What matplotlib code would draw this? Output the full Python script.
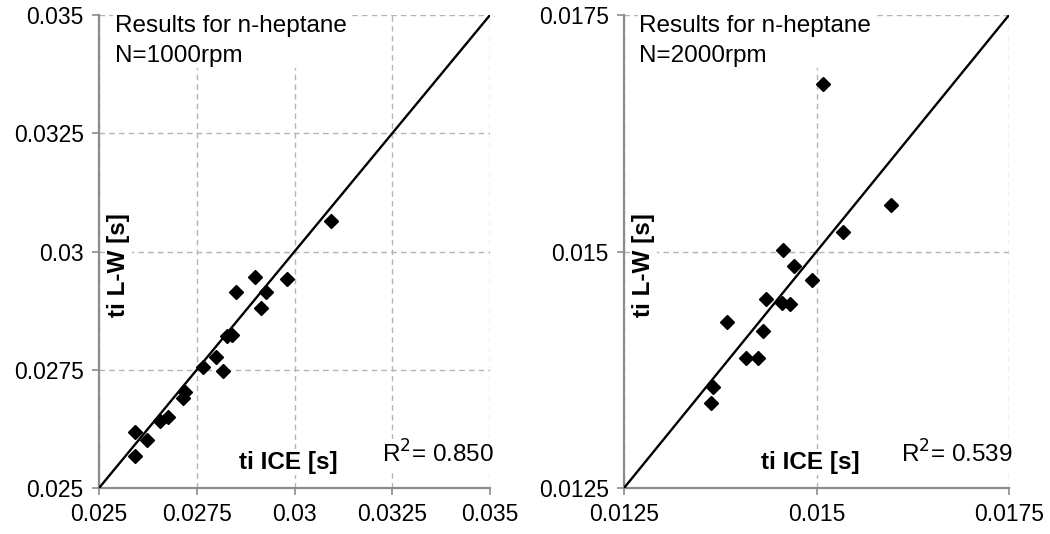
import matplotlib
matplotlib.use("Agg")
from matplotlib import pyplot as plt

plt.rcParams['font.family'] = ['Liberation Sans', 'DejaVu Sans']

# data: ti ICE (x) vs ti L-W (y)
ice_1000 = [0.03093, 0.02899, 0.02981, 0.02850, 0.02927, 0.02914, 0.02827, 0.02840,
            0.02799, 0.02766, 0.02817, 0.02720, 0.02715, 0.02676, 0.02656, 0.02592,
            0.02623, 0.02592]
lw_1000 = [0.03065, 0.02946, 0.02942, 0.02914, 0.02914, 0.02880, 0.02821, 0.02823,
           0.02776, 0.02755, 0.02748, 0.02702, 0.02691, 0.02651, 0.02642, 0.02619,
           0.02602, 0.02568]

ice_2000 = [0.01509, 0.01597, 0.01535, 0.01456, 0.01471, 0.01494, 0.01434, 0.01455,
            0.01465, 0.01384, 0.01431, 0.01408, 0.01424, 0.01365, 0.01363]
lw_2000 = [0.01677, 0.01549, 0.01521, 0.01502, 0.01485, 0.01470, 0.01450, 0.01446,
           0.01444, 0.01425, 0.01416, 0.01387, 0.01387, 0.01357, 0.01340]

ticks_1000 = [0.025, 0.0275, 0.03, 0.0325, 0.035]
labels_1000 = ['0.025', '0.0275', '0.03', '0.0325', '0.035']
ticks_2000 = [0.0125, 0.015, 0.0175]
labels_2000 = ['0.0125', '0.015', '0.0175']

r2_1000 = 0.850
r2_2000 = 0.539

fig = plt.figure(figsize=(10.5, 5.34), dpi=100)
ax1 = fig.add_axes([0.0943, 0.0861, 0.3724, 0.8858])
ax2 = fig.add_axes([0.5943, 0.0861, 0.3667, 0.8858])

panels = [
    (ax1, ice_1000, lw_1000, ticks_1000, labels_1000, 'N=1000rpm', r2_1000),
    (ax2, ice_2000, lw_2000, ticks_2000, labels_2000, 'N=2000rpm', r2_2000),
]

for ax, x, y, ticks, labels, speed, r2 in panels:
    lo, hi = ticks[0], ticks[-1]
    ax.set_xlim(lo, hi)
    ax.set_ylim(lo, hi)
    ax.set_xticks(ticks)
    ax.set_xticklabels(labels)
    ax.set_yticks(ticks)
    ax.set_yticklabels(labels)
    ax.grid(True, linestyle=(0, (4, 3)), color='#b4b4b4', linewidth=1)
    ax.set_axisbelow(True)
    for s in ['top', 'right']:
        ax.spines[s].set_visible(False)
    for s in ['left', 'bottom']:
        ax.spines[s].set_color('#8c8c8c')
        ax.spines[s].set_linewidth(1.6)
    ax.tick_params(direction='out', length=5, width=1.2, color='#8c8c8c',
                   labelsize=16.5, pad=6)

    # y = x reference line
    ax.plot([lo, hi], [lo, hi], color='black', linewidth=1.7, zorder=3)
    ax.plot(x, y, linestyle='none', marker='D', markersize=7.5,
            color='black', zorder=4, clip_on=False)

    box = dict(facecolor='white', edgecolor='none', pad=1)
    ax.text(0.04, 1.0, 'Results for n-heptane\n' + speed, transform=ax.transAxes,
            ha='left', va='top', fontsize=17.5, linespacing=1.45, bbox=box, zorder=5)
    ax.text(0.485, 0.055, 'ti ICE [s]', transform=ax.transAxes, ha='center',
            va='center', fontsize=17.5, fontweight='bold', bbox=box, zorder=5)
    ax.text(0.051, 0.472, 'ti L-W [s]', transform=ax.transAxes, ha='center',
            va='center', rotation=90, fontsize=17.5, fontweight='bold',
            bbox=box, zorder=5, clip_on=False)
    ax.text(1.01, 0.072, 'R$^2$= %.3f' % r2, transform=ax.transAxes, ha='right',
            va='center', fontsize=17.5, bbox=box, zorder=5)

fig.savefig('out.png', dpi=100)
